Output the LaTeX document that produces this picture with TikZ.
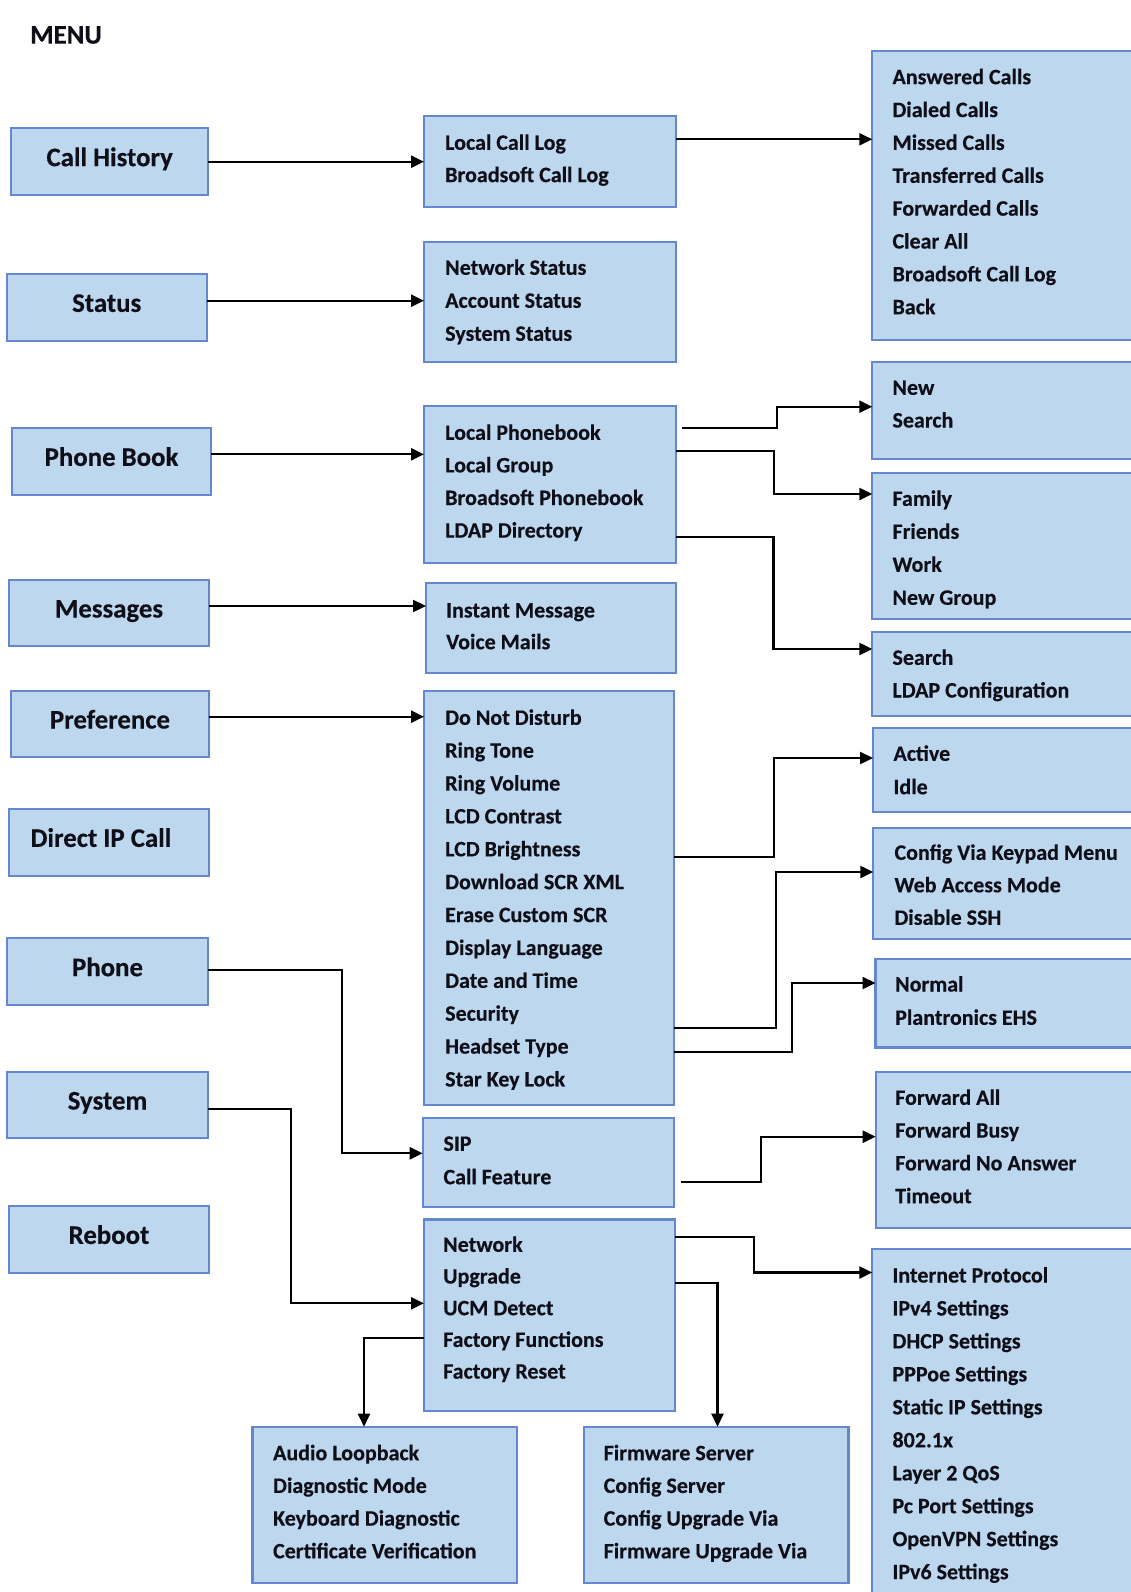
\documentclass[tikz,border=0pt]{standalone}
\usepackage{fontspec}
\setmainfont{Carlito}[BoldFeatures={FakeBold=0.35}]
\usetikzlibrary{arrows.meta}
\definecolor{boxfill}{RGB}{189,215,238}
\definecolor{bord}{RGB}{100,135,205}
\definecolor{txt}{RGB}{15,15,25}
\tikzset{
 lbox/.style={draw=bord, fill=boxfill, line width=2.2pt, rectangle, inner sep=0pt, outer sep=0pt},
 mainbox/.style={lbox, font=\fontsize{26.8}{30}\selectfont\bfseries, text=txt, text height=16.08pt, text depth=7.07pt},
 item/.style={anchor=base west, inner sep=0pt, font=\fontsize{22}{26}\selectfont\bfseries, text=txt},
 arr/.style={draw=black, line width=2.3pt, -{Triangle[length=13pt,width=12pt]}},
}
\newcommand{\panel}[5]{\node[lbox, minimum width={(#4-#2)*1pt}, minimum height={(#5-#3)*1pt}] (#1) at ({(#2+#4)/2},{(#3+#5)/2}) {};}
\newcommand{\mainpanel}[6]{\node[mainbox, minimum width={(#4-#2)*1pt}, minimum height={(#5-#3)*1pt}] (#1) at ({(#2+#4)/2},{(#3+#5)/2}) {#6};}
\newcommand{\itemlist}[5]{\foreach \t [count=\i] in {#5} {\node[item] (#1-\i) at (#2,{#3+(\i-1)*#4}) {\t};}}
\begin{document}
\begin{tikzpicture}[x=1pt,y=-1pt]
\useasboundingbox (0,0) rectangle (1131,1592);
\fill[white] (0,0) rectangle (1131,1592);
\clip (0,0) rectangle (1131,1592);

\node[anchor=base west, inner sep=0pt, font=\fontsize{26.8}{30}\selectfont\bfseries, text=txt] (menu) at (30,43.6) {MENU};

% main column
\mainpanel{ch}{11}{128.3}{208.3}{195}{Call History}
\mainpanel{st}{6.7}{274}{206.7}{340.7}{Status}
\mainpanel{pb}{12.3}{427.7}{210.7}{495}{Phone Book}
\mainpanel{ms}{9}{580}{209}{646}{Messages}
\mainpanel{pr}{11}{690.7}{209}{757.3}{Preference}
\mainpanel{dip}{9}{809}{209}{875.7}{Direct IP Call\hspace*{16pt}}
\mainpanel{ph}{6.7}{938.3}{208.3}{1005}{Phone}
\mainpanel{sy}{6.7}{1071.7}{208.3}{1138.3}{System}
\mainpanel{rb}{9}{1206}{209}{1272.7}{Reboot}

% middle column
\panel{cl}{424}{115.7}{676}{206.7}
\panel{sts}{424}{241.7}{676}{362.3}
\panel{pbk}{424}{406}{676}{563.3}
\panel{msg}{426}{583.3}{676}{672.7}
\panel{prf}{424}{690.7}{674.3}{1105}
\panel{sip}{422.7}{1117.7}{674}{1206.7}
\panel{sys}{424}{1219.5}{675}{1411}
% bottom
\panel{aud}{252.4}{1426.7}{517}{1582.7}
\panel{fw}{584.3}{1426.7}{848.4}{1582.7}
% right column
\panel{ans}{872.3}{51}{1145}{340}
\panel{new}{872.3}{361.7}{1145}{459}
\panel{fam}{872.3}{472.7}{1145}{619.3}
\panel{lds}{872.3}{631.7}{1145}{715.7}
\panel{act}{873}{728}{1145}{812}
\panel{cfg}{873.3}{828}{1145}{939}
\panel{nrm}{875.5}{959}{1145}{1047.5}
\panel{fwd}{875.7}{1071.7}{1145}{1227.7}
\panel{inet}{872.3}{1249.3}{1145}{1610}

% texts
\itemlist{clt}{445}{149.8}{32.3}{Local Call Log,Broadsoft Call Log}
\itemlist{stst}{445}{274.8}{33}{Network Status,Account Status,System Status}
\itemlist{pbkt}{445}{439.8}{32.6}{Local Phonebook,Local Group,Broadsoft Phonebook,LDAP Directory}
\itemlist{msgt}{446}{617.5}{31.7}{Instant Message,Voice Mails}
\itemlist{prft}{445}{724.8}{32.88}{Do Not Disturb,Ring Tone,Ring Volume,LCD Contrast,LCD Brightness,Download SCR XML,Erase Custom SCR,Display Language,Date and Time,Security,Headset Type,Star Key Lock}
\itemlist{sipt}{443.3}{1150.8}{33.4}{SIP,Call Feature}
\itemlist{syst}{443}{1251.8}{31.7}{Network,Upgrade,UCM Detect,Factory Functions,Factory Reset}
\itemlist{audt}{272.9}{1460.2}{32.7}{Audio Loopback,Diagnostic Mode,Keyboard Diagnostic,Certificate Verification}
\itemlist{fwt}{603.5}{1460.2}{32.7}{Firmware Server,Config Server,Config Upgrade Via,Firmware Upgrade Via}
\itemlist{anst}{892.3}{84.2}{32.86}{Answered Calls,Dialed Calls,Missed Calls,Transferred Calls,Forwarded Calls,Clear All,Broadsoft Call Log,Back}
\itemlist{newt}{892.3}{394.8}{32.7}{New,Search}
\itemlist{famt}{892.3}{505.8}{33}{Family,Friends,Work,New Group}
\itemlist{ldst}{892.3}{664.8}{32.7}{Search,LDAP Configuration}
\itemlist{actt}{893.3}{760.8}{33.4}{Active,Idle}
\itemlist{cfgt}{894.3}{859.8}{32.5}{Config Via Keypad Menu,Web Access Mode,Disable SSH}
\itemlist{nrmt}{895}{991.5}{33.3}{Normal,Plantronics EHS}
\itemlist{fwdt}{895}{1104.8}{32.8}{Forward All,Forward Busy,Forward No Answer,Timeout}
\itemlist{inett}{892.3}{1282.5}{32.96}{Internet Protocol,IPv4 Settings,DHCP Settings,PPPoe Settings,Static IP Settings,802.1x,Layer 2 QoS,Pc Port Settings,OpenVPN Settings,IPv6 Settings}

% connectors
\draw[arr] (ch.east |- 0,161.7) -- (cl.west |- 0,161.7);
\draw[arr] (st.east |- 0,300.7) -- (sts.west |- 0,300.7);
\draw[arr] (pb.east |- 0,454.3) -- (pbk.west |- 0,454.3);
\draw[arr] (ms.east |- 0,606) -- (msg.west |- 0,606);
\draw[arr] (pr.east |- 0,716.7) -- (prf.west |- 0,716.7);
\draw[arr] (ph.east |- 0,970) -- (341.7,970) |- (sip.west |- 0,1153.3);
\draw[arr] (sy.east |- 0,1109) -- (291,1109) |- (sys.west |- 0,1303.3);
\draw[arr] (cl.east |- 0,139.3) -- (ans.west |- 0,139.3);
\draw[arr] ([xshift=6pt]pbk.east |- 0,428.3) -- (776.7,428.3) |- (new.west |- 0,406.7);
\draw[arr] (pbk.east |- 0,450.7) -- (774,450.7) |- (fam.west |- 0,494);
\draw[arr] (pbk.east |- 0,537.3) -- (773.5,537.3) |- (lds.west |- 0,649);
\draw[arr] (prf.east |- 0,857) -- (774,857) |- (act.west |- 0,758);
\draw[arr] (prf.east |- 0,1028) -- (776,1028) |- (cfg.west |- 0,872);
\draw[arr] (prf.east |- 0,1051.7) -- (791.7,1051.7) |- (nrm.west |- 0,983);
\draw[arr] ([xshift=7pt]sip.east |- 0,1182.3) -- (760.7,1182.3) |- (fwd.west |- 0,1136.7);
\draw[arr] (sys.east |- 0,1236.7) -- (754.3,1236.7) |- (inet.west |- 0,1272.5);
\draw[arr] (sys.east |- 0,1282.8) -| (fw.north -| 717.5,0);
\draw[arr] (sys.west |- 0,1337.7) -| (aud.north -| 364,0);
\end{tikzpicture}
\end{document}
